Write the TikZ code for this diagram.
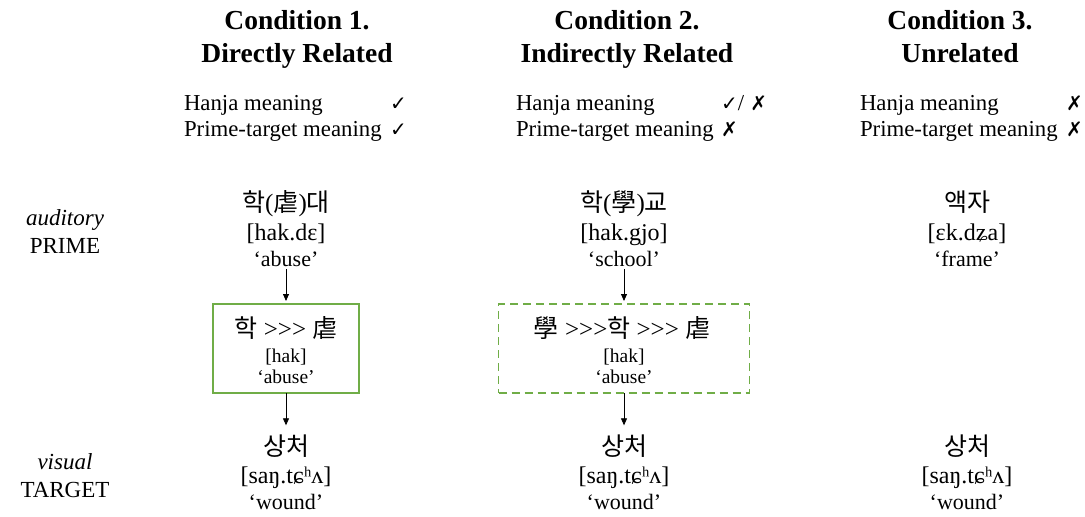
\documentclass[tikz,border=0pt]{standalone}
\usepackage{fontspec}
\setmainfont{Liberation Serif}
\newfontfamily\kr{Noto Sans CJK KR}
\newfontfamily\sym{DejaVu Sans}
\usetikzlibrary{arrows.meta}
\definecolor{boxgreen}{RGB}{112,173,71}
\newcommand{\gtr}{>{}>{}>}
\begin{document}
\begin{tikzpicture}[x=1pt,y=-1pt,
  every node/.style={inner sep=0pt, outer sep=0pt},
  ttl/.style={anchor=base, font=\fontsize{27.5}{33}\selectfont\bfseries},
  crit/.style={anchor=base west, font=\fontsize{22.8}{27}\selectfont},
  tick/.style={anchor=base west, font=\fontsize{20}{24}\selectfont\sym},
  kor/.style={anchor=base, font=\fontsize{25}{30}\selectfont},
  ipa/.style={anchor=base, font=\fontsize{24}{28}\selectfont},
  gloss/.style={anchor=base, font=\fontsize{22}{26}\selectfont},
  boxtext/.style={anchor=base, font=\fontsize{19.5}{22}\selectfont},
  sidelab/.style={anchor=base, font=\fontsize{23}{27}\selectfont},
  hbox/.style={draw=boxgreen, line width=1.2pt},
  arr/.style={-{Triangle[length=7pt,width=6pt]}, line width=0.8pt}
]
\useasboundingbox (0,0) rectangle (1085,517);

% titles
\node[ttl] (h1a) at (297,29) {Condition 1.};
\node[ttl] (h1b) at (297,62) {Directly Related};
\node[ttl] (h2a) at (627,29) {Condition 2.};
\node[ttl] (h2b) at (627,62) {Indirectly Related};
\node[ttl] (h3a) at (960,29) {Condition 3.};
\node[ttl] (h3b) at (960,62) {Unrelated};

% criteria
\node[crit] (c1a) at (184,110) {Hanja meaning};
\node[crit] (c1b) at (184,136) {Prime-target meaning};
\node[tick] (m1a) at (390,110) {✓};
\node[tick] (m1b) at (390,136) {✓};
\node[crit] (c2a) at (516,110) {Hanja meaning};
\node[crit] (c2b) at (516,136) {Prime-target meaning};
\node[tick] (m2a) at (721,110) {✓{\fontsize{22.8}{27}\rmfamily/} ✗};
\node[tick] (m2b) at (721,136) {✗};
\node[crit] (c3a) at (860,110) {Hanja meaning};
\node[crit] (c3b) at (860,136) {Prime-target meaning};
\node[tick] (m3a) at (1066,110) {✗};
\node[tick] (m3b) at (1066,136) {✗};

% side labels
\node[sidelab] (la) at (65,225) {\itshape auditory};
\node[sidelab] (lb) at (65,253) {PRIME};
\node[sidelab] (lc) at (65,469) {\itshape visual};
\node[sidelab] (ld) at (65,497) {TARGET};

% primes
\node[kor] (p1k) at (286,211) {{\kr 학}({\kr 虐}){\kr 대}};
\node[ipa] (p1i) at (286,240) {[hak.dɛ]};
\node[gloss] (p1g) at (286,266) {‘abuse’};
\node[kor] (p2k) at (624,211) {{\kr 학}({\kr 學}){\kr 교}};
\node[ipa] (p2i) at (624,240) {[hak.gjo]};
\node[gloss] (p2g) at (624,266) {‘school’};
\node[kor] (p3k) at (967,211) {{\kr 액자}};
\node[ipa] (p3i) at (967,240) {[ɛk.dʑa]};
\node[gloss] (p3g) at (967,266) {‘frame’};

% boxes
\node[hbox, minimum width=146, minimum height=89] (b1) at (286,348.5) {};
\node[kor] (b1k) at (286,337) {{\kr 학} \gtr{} {\kr 虐}};
\node[boxtext] (b1i) at (286,362) {[hak]};
\node[boxtext] (b1g) at (286,383) {‘abuse’};
\node[hbox, dash pattern=on 8pt off 5pt, minimum width=251, minimum height=89] (b2) at (624,348.5) {};
\node[kor] (b2k) at (622,337) {{\kr 學} \gtr{\kr 학} \gtr{} {\kr 虐}};
\node[boxtext] (b2i) at (624,362) {[hak]};
\node[boxtext] (b2g) at (624,383) {‘abuse’};

% targets
\node[kor] (t1k) at (286,455) {{\kr 상처}};
\node[ipa] (t1i) at (286,483) {[saŋ.tɕʰʌ]};
\node[gloss] (t1g) at (286,509) {‘wound’};
\node[kor] (t2k) at (624,455) {{\kr 상처}};
\node[ipa] (t2i) at (624,483) {[saŋ.tɕʰʌ]};
\node[gloss] (t2g) at (624,509) {‘wound’};
\node[kor] (t3k) at (967,455) {{\kr 상처}};
\node[ipa] (t3i) at (967,483) {[saŋ.tɕʰʌ]};
\node[gloss] (t3g) at (967,509) {‘wound’};

% arrows
\draw[arr, shorten <=3pt, shorten >=3pt] (p1g.south) -- (b1.north);
\draw[arr, shorten >=9pt] (b1.south) -- (t1k.north);
\draw[arr, shorten <=3pt, shorten >=3pt] (p2g.south) -- (b2.north);
\draw[arr, shorten >=9pt] (b2.south) -- (t2k.north);
\end{tikzpicture}
\end{document}
